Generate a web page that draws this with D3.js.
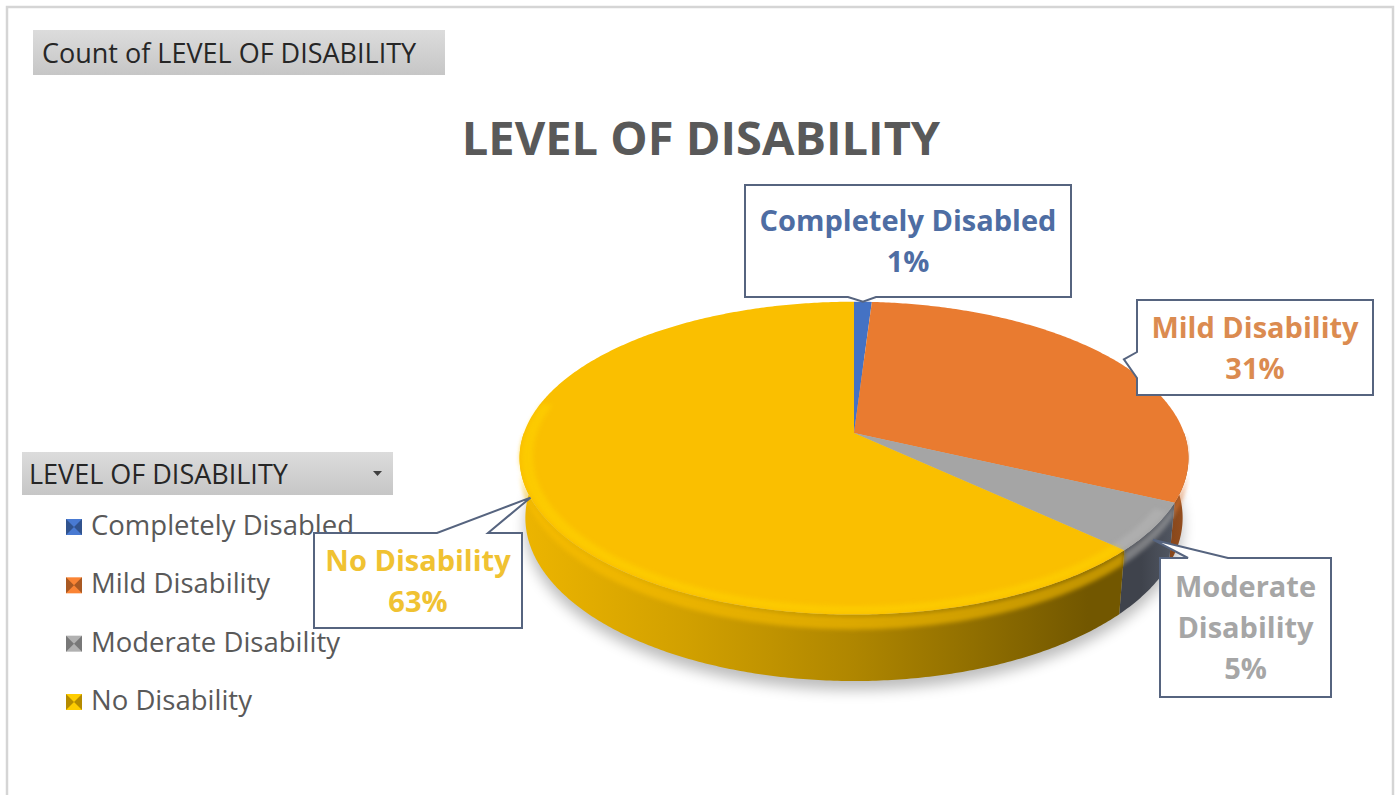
<!DOCTYPE html>
<html>
<head>
<meta charset="utf-8">
<script src="https://cdn.jsdelivr.net/npm/d3@7"></script>
<style>
  html, body { margin: 0; padding: 0; background: #fff; overflow: hidden; }
  svg { display: block; }
  text { font-family: "Open Sans", "Noto Sans", sans-serif; }
</style>
</head>
<body>
<svg id="chart" width="1399" height="795"></svg>
<script>
// ---- data ----
const categories = ["Completely Disabled", "Mild Disability", "Moderate Disability", "No Disability"];
const shares = [1, 31, 5, 63];
const labelLines = [["Completely Disabled"], ["Mild Disability"], ["Moderate", "Disability"], ["No Disability"]];
const sliceColors = ["#4472C4", "#E97B30", "#A5A5A5", "#FABF00"];
const wallColors = ["#4472C4", "#E97B30", "#8A93A6", "#FABF00"];
const labelColors = ["#4E6DA3", "#DB8B50", "#A6A6A6", "#F0C232"];
const chartTitle = "LEVEL OF DISABILITY";
const fieldButtonText = "Count of LEVEL OF DISABILITY";
const legendTitle = "LEVEL OF DISABILITY";

// ---- canvas ----
const svg = d3.select("#chart");
const defs = svg.append("defs");

// outer chart frame
svg.append("rect")
  .attr("x", 7).attr("y", 7).attr("width", 1386).attr("height", 810)
  .attr("fill", "#fff").attr("stroke", "#d5d5d5").attr("stroke-width", 2.5);

// grey field buttons (pivot chart)
const btnGrad = defs.append("linearGradient").attr("id", "btnGrad")
  .attr("x1", 0).attr("y1", 0).attr("x2", 0).attr("y2", 1);
btnGrad.append("stop").attr("offset", 0).attr("stop-color", "#dcdcdc");
btnGrad.append("stop").attr("offset", 1).attr("stop-color", "#c6c6c6");

svg.append("rect").attr("x", 33).attr("y", 30).attr("width", 412).attr("height", 45)
  .attr("fill", "url(#btnGrad)");
svg.append("text").attr("x", 42).attr("y", 63)
  .attr("font-size", 27).attr("fill", "#262626").text(fieldButtonText);

// ---- title ----
svg.append("text")
  .attr("x", 701).attr("y", 155)
  .attr("text-anchor", "middle")
  .attr("font-size", 47).attr("font-weight", 700)
  .attr("fill", "#595959")
  .text(chartTitle);

// ---- 3D pie: perspective projection of a tilted disc ----
const cx = 854, cy = 433;          // projected pie centre
const tilt = 27.5 * Math.PI / 180; // elevation of the view
const dist = 5.52;                 // camera distance (in radii)
const focal = 1822;                // focal length in px
const thick = 0.205;               // disc thickness (in radii)

function project(a, Y, r) {
  const X = r * Math.sin(a), Z = r * Math.cos(a);
  const yv = Y * Math.cos(tilt) + Z * Math.sin(tilt);
  const zv = Z * Math.cos(tilt) - Y * Math.sin(tilt);
  return [cx + focal * X / (dist + zv), cy - focal * yv / (dist + zv)];
}
function arcPts(a0, a1, Y, r) {
  const n = Math.max(2, Math.ceil(Math.abs(a1 - a0) / 0.01));
  return d3.range(n + 1).map(i => project(a0 + (a1 - a0) * i / n, Y, r));
}
const line = d3.line();
const closed = pts => line(pts) + "Z";

const arcs = d3.pie().sort(null).value(d => d)(shares);
const total = d3.sum(shares);
const pct = v => Math.round(v / total * 100) + "%";

// horizontal extent used for side shading
const leftX = cx - 334, rightX = cx + 334;

// filters
defs.append("filter").attr("id", "shadowBlur").attr("x", "-20%").attr("y", "-20%")
  .attr("width", "140%").attr("height", "140%")
  .append("feGaussianBlur").attr("stdDeviation", 7);
defs.append("filter").attr("id", "softBlur").attr("x", "-10%").attr("y", "-50%")
  .attr("width", "120%").attr("height", "200%")
  .append("feGaussianBlur").attr("stdDeviation", 2.2);

const pieG = svg.append("g");

// soft drop shadow beneath the disc
pieG.append("path")
  .attr("d", closed(arcPts(0, 2 * Math.PI, -thick, 1.0)))
  .attr("transform", "translate(0,9)")
  .attr("fill", "#000").attr("opacity", 0.26)
  .attr("filter", "url(#shadowBlur)");

// wall shading: darkness by horizontal position (light from the front-left)
const shadeStops = [[0, 0.15], [0.25, 0.5], [0.5, 1.0], [0.7, 1.6], [0.85, 2.2], [0.93, 2.2], [1, 1.2]];
arcs.forEach((d, i) => {
  const g = defs.append("linearGradient").attr("id", "side" + i)
    .attr("gradientUnits", "userSpaceOnUse")
    .attr("x1", leftX).attr("y1", 0).attr("x2", rightX).attr("y2", 0);
  shadeStops.forEach(([t, k]) => {
    g.append("stop").attr("offset", t).attr("stop-color", d3.color(wallColors[i]).darker(k).formatHex());
  });
});

// visible front walls
const front0 = Math.PI / 2, front1 = 3 * Math.PI / 2;
arcs.forEach((d, i) => {
  const s0 = Math.max(d.startAngle, front0), s1 = Math.min(d.endAngle, front1);
  if (s1 <= s0) return;
  pieG.append("path")
    .attr("d", closed(arcPts(s0, s1, 0, 1).concat(arcPts(s1, s0, -thick, 1))))
    .attr("fill", `url(#side${i})`);
  // rounded bevel at the upper edge of the wall
  pieG.append("path")
    .attr("d", closed(arcPts(s0, s1, -0.005, 1).concat(arcPts(s1, s0, -0.045, 1))))
    .attr("fill", sliceColors[i]).attr("opacity", 0.6)
    .attr("filter", "url(#softBlur)");
});

// top faces
arcs.forEach((d, i) => {
  pieG.append("path")
    .attr("d", closed([project(0, 0, 0)].concat(arcPts(d.startAngle, d.endAngle, 0, 1))))
    .attr("fill", sliceColors[i]);
});

// bright rim on the front of the top face
arcs.forEach((d, i) => {
  const s0 = Math.max(d.startAngle, front0 + 0.5), s1 = Math.min(d.endAngle, front1 + 0.2);
  if (s1 <= s0) return;
  pieG.append("path")
    .attr("d", closed(arcPts(s0, s1, 0, 0.995).concat(arcPts(s1, s0, 0, 0.96))))
    .attr("fill", d3.color(sliceColors[i]).brighter(0.3).formatHex())
    .attr("opacity", 0.5)
    .attr("filter", "url(#softBlur)");
});

// ---- legend ----
svg.append("rect").attr("x", 22).attr("y", 452).attr("width", 371).attr("height", 43)
  .attr("fill", "url(#btnGrad)");
svg.append("text").attr("x", 29).attr("y", 484)
  .attr("font-size", 27).attr("fill", "#262626").text(legendTitle);
svg.append("path").attr("d", "M373,471 L382,471 L377.5,476 Z").attr("fill", "#404040");

const legendY = d3.scalePoint().domain(categories).range([527, 702]);
const legendG = svg.append("g");
categories.forEach((c, i) => {
  const y = legendY(c);
  const base = d3.color(sliceColors[i]);
  const m = legendG.append("g").attr("transform", `translate(66,${y - 8})`);
  m.append("rect").attr("width", 16).attr("height", 16).attr("fill", base.brighter(0.2).formatHex());
  m.append("path").attr("d", "M0,0 L8,8 L0,16 Z").attr("fill", base.darker(0.9).formatHex());
  m.append("path").attr("d", "M16,0 L8,8 L16,16 Z").attr("fill", base.darker(0.9).formatHex());
  legendG.append("text").attr("x", 91).attr("y", y + 8)
    .attr("font-size", 27.5).attr("fill", "#595959").text(c);
});

// ---- data-label callouts ----
const callouts = [
  { x: 745, y: 185, w: 326, h: 112, side: "bottom", b: [848, 876], r: 1.0, Y: 0 },
  { x: 1137, y: 300, w: 236, h: 95, side: "left", b: [352, 378], r: 1.03, Y: 0 },
  { x: 1160, y: 558, w: 171, h: 139, side: "top", b: [1188, 1228], r: 1.0, Y: -0.04 },
  { x: 314, y: 533, w: 208, h: 95, side: "top", b: [437, 488], r: 1.0, Y: 0 }
];

function calloutPath(c, tip) {
  const p = [];
  const { x, y, w, h, side, b } = c;
  p.push([x, y]);
  if (side === "top") p.push([b[0], y], tip, [b[1], y]);
  p.push([x + w, y], [x + w, y + h]);
  if (side === "bottom") p.push([b[1], y + h], tip, [b[0], y + h]);
  p.push([x, y + h]);
  if (side === "left") p.push([x, b[1]], tip, [x, b[0]]);
  return closed(p);
}

const lineGap = 41;
arcs.forEach((d, i) => {
  const c = callouts[i];
  const mid = (d.startAngle + d.endAngle) / 2;
  const tip = project(mid, c.Y, c.r);
  svg.append("path")
    .attr("d", calloutPath(c, tip))
    .attr("fill", "#fff").attr("stroke", "#56647F").attr("stroke-width", 2)
    .attr("stroke-linejoin", "miter");
  const lines = labelLines[i].concat([pct(d.data)]);
  const first = c.y + c.h / 2 - (lines.length - 1) * lineGap / 2 + 10.5;
  const t = svg.append("text")
    .attr("text-anchor", "middle")
    .attr("font-size", 29).attr("font-weight", 700)
    .attr("fill", labelColors[i]);
  lines.forEach((s, j) => {
    t.append("tspan").attr("x", c.x + c.w / 2).attr("y", first + j * lineGap).text(s);
  });
});
</script>
</body>
</html>
